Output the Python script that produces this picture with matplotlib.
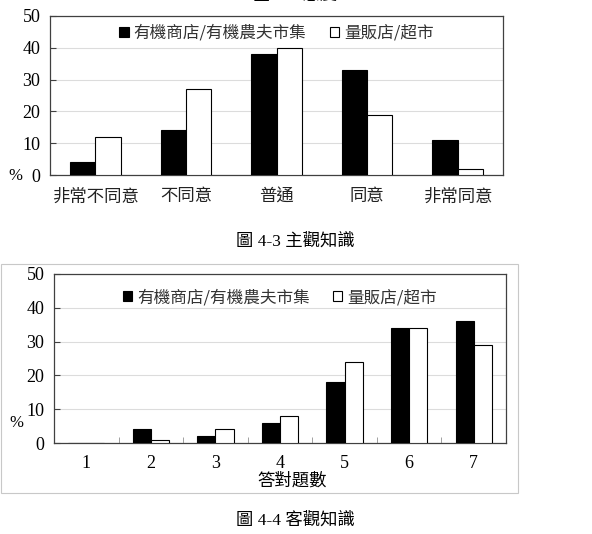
import numpy as np
import matplotlib.pyplot as plt
from matplotlib.patches import Rectangle

plt.rcParams['font.family'] = ['Liberation Serif', 'Noto Sans CJK TC']

# 圖 4-3 主觀知識
cat_top = ['非常不同意', '不同意', '普通', '同意', '非常同意']
org_top = [4, 14, 38, 33, 11]
mkt_top = [12, 27, 40, 19, 2]

# 圖 4-4 客觀知識
cat_bot = ['1', '2', '3', '4', '5', '6', '7']
org_bot = [0, 4, 2, 6, 18, 34, 36]
mkt_bot = [0, 1, 4, 8, 24, 34, 29]

lab_org = '有機商店/有機農夫市集'
lab_mkt = '量販店/超市'
yticks = [0, 10, 20, 30, 40, 50]

W, H = 592, 534
fig = plt.figure(figsize=(W / 100, H / 100), dpi=100)
fig.patch.set_facecolor('white')

def px(x0, y0, x1, y1):
    return [x0 / W, 1 - y1 / H, (x1 - x0) / W, (y1 - y0) / H]

def bars(ax, cats, a, b, legend_y):
    x = np.arange(len(cats))
    w = 0.28
    ax.bar(x - w / 2, a, w, color='black', edgecolor='black', lw=0.8, label=lab_org, zorder=3)
    ax.bar(x + w / 2, b, w, color='white', edgecolor='black', lw=0.8, label=lab_mkt, zorder=3)
    ax.set_xlim(-0.5, len(cats) - 0.5)
    ax.set_ylim(0, 50)
    ax.set_yticks(yticks)
    ax.yaxis.grid(True, color='#dcdcdc', lw=0.8, zorder=0)
    for s in ax.spines.values():
        s.set_color('#404040')
        s.set_linewidth(0.9)
    ax.tick_params(axis='y', labelsize=13, length=4, color='#404040', direction='in', pad=7)
    ax.tick_params(axis='x', length=0)
    leg = ax.legend(loc='center', bbox_to_anchor=(0.5, legend_y), ncol=2, frameon=False,
                    fontsize=12, handlelength=0.55, handleheight=0.55, handletextpad=0.3,
                    columnspacing=1.4, borderpad=0)
    for t in leg.get_texts():
        t.set_family(['Noto Sans CJK TC'])
        t.set_color('#333333')
    return x

# top chart
ax1 = fig.add_axes(px(50, 16, 503, 175))
x1 = bars(ax1, cat_top, org_top, mkt_top, 0.89)
ax1.set_xticks(x1)
ax1.set_xticklabels(cat_top, fontsize=12.5, family=['Noto Sans CJK TC'], color='#222222')
ax1.tick_params(axis='x', pad=9)
fig.text(15 / W, 1 - 176 / H, '%', fontsize=12, ha='center', va='center')
fig.text(295 / W, 1 + 4 / H, '圖 4-2 態度', fontsize=12.5, ha='center', va='center')
fig.text(295 / W, 1 - 241 / H, '圖 4-3 主觀知識', fontsize=12.5, ha='center', va='center')

# bottom chart with its outer frame
fig.patches.append(Rectangle((1 / W, 1 - 493 / H), 517 / W, 229 / H, transform=fig.transFigure,
                             fill=False, edgecolor='#c8c8c8', lw=0.8))
ax2 = fig.add_axes(px(54, 274, 506, 443))
x2 = bars(ax2, cat_bot, org_bot, mkt_bot, 0.86)
ax2.set_xticks(x2)
ax2.set_xticklabels(cat_bot, fontsize=13)
ax2.set_xticks(np.arange(len(cat_bot) + 1) - 0.5, minor=True)
ax2.tick_params(axis='x', which='minor', length=4, color='#909090', direction='in')
ax2.tick_params(axis='x', which='major', pad=9)
fig.text(292 / W, 1 - 481 / H, '答對題數', fontsize=12.5, ha='center', va='center')
fig.text(16 / W, 1 - 423 / H, '%', fontsize=12, ha='center', va='center')
fig.text(295 / W, 1 - 520 / H, '圖 4-4 客觀知識', fontsize=12.5, ha='center', va='center')

fig.savefig('out.png', dpi=100, facecolor='white')
